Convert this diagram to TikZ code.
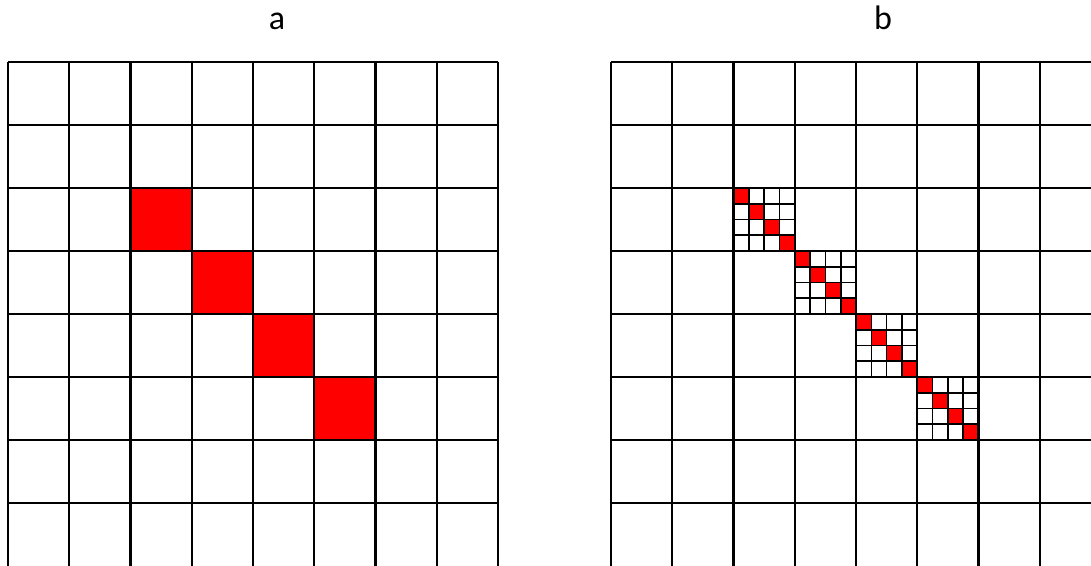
\documentclass[tikz,border=0pt]{standalone}
\usepackage{fontspec}
\setmainfont{Carlito}
\usepackage{tikz}
\usetikzlibrary{calc}

\begin{document}
\begin{tikzpicture}[x=1pt, y=-1pt, line width=2.2pt,
  gridline/.style={black, line width=2.2pt},
  subline/.style={black, line width=1.6pt},
  title/.style={font=\fontsize{34}{40}\selectfont, anchor=base}]

  % 画布范围（像素坐标，y 向下）
  \useasboundingbox (0,0) rectangle (1091,565);
  \clip (0,0) rectangle (1091,565);

  % =========== 图a：8x8 网格，对角线四个红格 ===========
  \begin{scope}[shift={(8,62)}]
    \coordinate (A0) at (0,0);        % 左上角
    % 红格
    \foreach \k in {2,...,5}
      \fill[red] ($(A0)+(61.25*\k,63*\k)$) rectangle ++(61.25,63);
    % 网格线
    \foreach \i in {0,...,8}
      \draw[gridline] ($(A0)+(61.25*\i,0)$) -- ++(0,504);
    \foreach \j in {0,...,7}
      \draw[gridline] ($(A0)+(0,63*\j)$) -- ++(490,0);
  \end{scope}
  \node[title] (la) at (277,29) {a};

  % =========== 图b：同样网格，红格再细分为 4x4 ===========
  \begin{scope}[shift={(611,62)}]
    \coordinate (B0) at (0,0);        % 左上角
    % 细分格：对角线红色小格 + 细线
    \foreach \k in {2,...,5} {
      \coordinate (S\k) at ($(B0)+(61.25*\k,63*\k)$);
      \foreach \m in {0,...,3}
        \fill[red] ($(S\k)+(15.3125*\m,15.75*\m)$) rectangle ++(15.3125,15.75);
      \foreach \m in {1,...,3} {
        \draw[subline] ($(S\k)+(15.3125*\m,0)$) -- ++(0,63);
        \draw[subline] ($(S\k)+(0,15.75*\m)$) -- ++(61.25,0);
      }
    }
    % 网格线
    \foreach \i in {0,...,8}
      \draw[gridline] ($(B0)+(61.25*\i,0)$) -- ++(0,504);
    \foreach \j in {0,...,7}
      \draw[gridline] ($(B0)+(0,63*\j)$) -- ++(490,0);
  \end{scope}
  \node[title] (lb) at (883,29) {b};

\end{tikzpicture}
\end{document}
